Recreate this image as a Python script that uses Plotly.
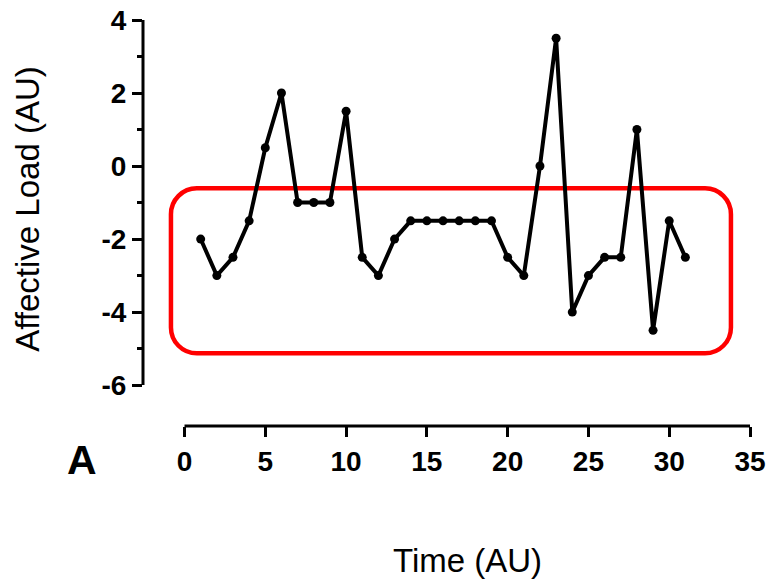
import plotly.graph_objects as go

time = list(range(1, 32))
affective_load = [-2, -3, -2.5, -1.5, 0.5, 2, -1, -1, -1, 1.5,
                  -2.5, -3, -2, -1.5, -1.5, -1.5, -1.5, -1.5, -1.5, -2.5,
                  -3, 0, 3.5, -4, -3, -2.5, -2.5, 1, -4.5, -1.5, -2.5]
x_ticks = [0, 5, 10, 15, 20, 25, 30, 35]
y_ticks = [-6, -4, -2, 0, 2, 4]
y_minor = [-5, -3, -1, 1, 3]

FONT = "Arial, Liberation Sans, sans-serif"

fig = go.Figure()
fig.add_trace(go.Scatter(
    x=time, y=affective_load, mode="lines+markers",
    line=dict(color="black", width=4),
    marker=dict(color="black", size=9),
    showlegend=False, cliponaxis=False,
))

# rounded highlight rectangle (data coords)
x0, x1, y0, y1 = -0.84, 33.82, -5.13, -0.61
rx, ry = 1.6, 0.71
k = 0.5523
path = (f"M {x0+rx},{y1} L {x1-rx},{y1} "
        f"C {x1-rx+k*rx},{y1} {x1},{y1-ry+k*ry} {x1},{y1-ry} "
        f"L {x1},{y0+ry} "
        f"C {x1},{y0+ry-k*ry} {x1-rx+k*rx},{y0} {x1-rx},{y0} "
        f"L {x0+rx},{y0} "
        f"C {x0+rx-k*rx},{y0} {x0},{y0+ry-k*ry} {x0},{y0+ry} "
        f"L {x0},{y1-ry} "
        f"C {x0},{y1-ry+k*ry} {x0+rx-k*rx},{y1} {x0+rx},{y1} Z")
fig.add_shape(type="path", path=path, xref="x", yref="y",
              line=dict(color="#ff0000", width=4.5), layer="below")

# axis lines (offset GraphPad style)
fig.add_shape(type="line", xref="paper", yref="y", x0=0, x1=0,
              y0=y_ticks[0], y1=y_ticks[-1], line=dict(color="black", width=3))
fig.add_shape(type="line", xref="x", yref="paper", x0=x_ticks[0], x1=x_ticks[-1],
              y0=0, y1=0, line=dict(color="black", width=3))

fig.update_xaxes(
    range=[-2.57, 35], showgrid=False, zeroline=False, showline=False,
    automargin=False,
    tickvals=x_ticks, ticktext=[str(v) for v in x_ticks],
    ticks="outside", ticklen=10, tickwidth=3, tickcolor="black",
    tickfont=dict(family=FONT, size=28, color="black", weight="bold"),
)
fig.update_yaxes(
    range=[-7.12, 4], showgrid=False, zeroline=False, showline=False,
    automargin=False,
    tickvals=y_ticks, ticktext=[str(v) for v in y_ticks],
    ticks="outside", ticklen=10, tickwidth=3, tickcolor="black",
    tickfont=dict(family=FONT, size=28, color="black", weight="bold"),
    minor=dict(tickvals=y_minor, ticks="outside", ticklen=5, tickwidth=3, tickcolor="black"),
)

fig.add_annotation(text="Affective Load (AU)", xref="paper", yref="paper",
                   x=-0.1895, y=0.535, textangle=-90, showarrow=False,
                   xanchor="center", yanchor="middle",
                   font=dict(family=FONT, size=33, color="black"))
fig.add_annotation(text="Time (AU)", xref="paper", yref="paper",
                   x=0.5346, y=-0.3325, showarrow=False,
                   xanchor="center", yanchor="middle",
                   font=dict(family=FONT, size=33, color="black"))
fig.add_annotation(text="<b>A</b>", xref="paper", yref="paper",
                   x=-0.0997, y=-0.0837, showarrow=False,
                   xanchor="center", yanchor="middle",
                   font=dict(family=FONT, size=41, color="black"))

fig.update_layout(
    width=771, height=585,
    margin=dict(l=143, r=21, t=20, b=159),
    plot_bgcolor="white", paper_bgcolor="white",
)

fig.write_html("out.html")
